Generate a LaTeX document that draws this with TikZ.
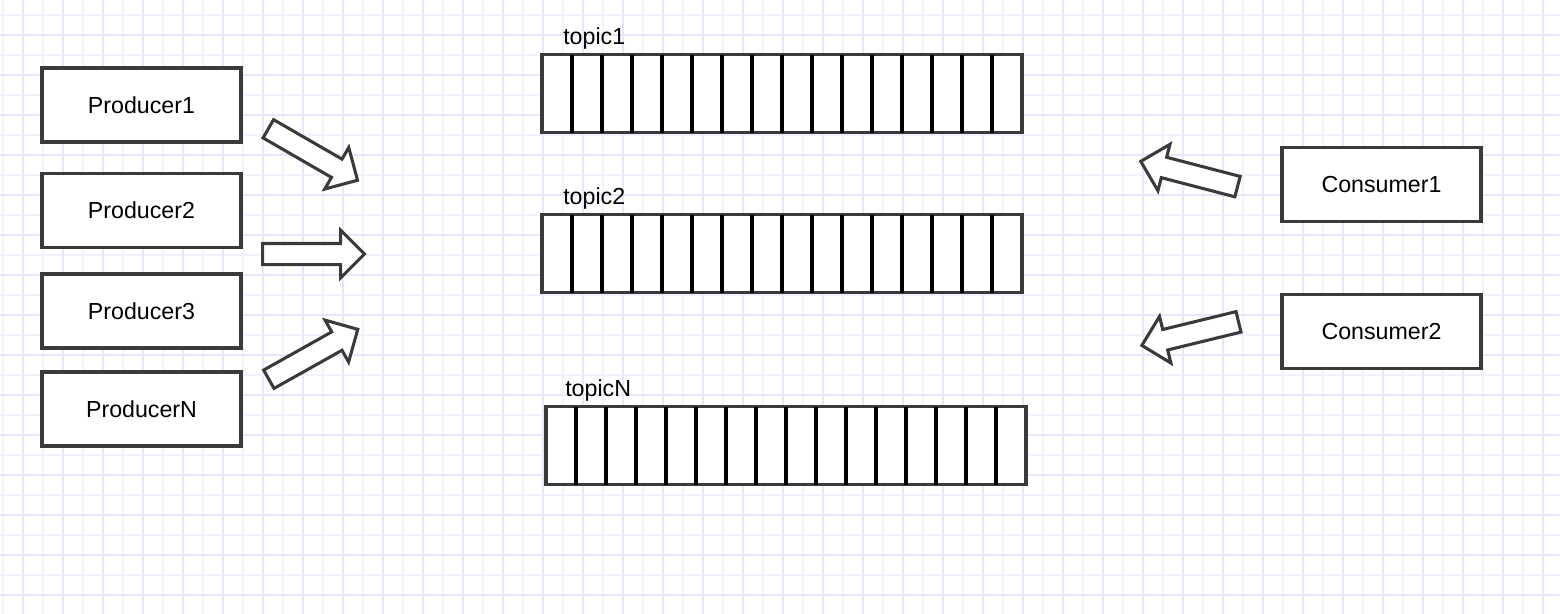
\documentclass[tikz,border=0pt]{standalone}
\usepackage{fontspec}
\setmainfont{Liberation Sans}
\usetikzlibrary{shapes.arrows}

\definecolor{gridminor}{RGB}{242,241,253}
\definecolor{gridmajor}{RGB}{232,230,251}
\definecolor{stroke}{RGB}{58,58,58}

\tikzset{
  client/.style={draw=stroke, line width=2.6pt, fill=white, inner sep=0pt, outer sep=0pt,
    minimum width=149.25pt, minimum height=55.5pt, font=\fontsize{17.4}{20}\selectfont},
  queuebar/.style={draw=stroke, line width=2.4pt, fill=white, inner sep=0pt, outer sep=0pt,
    minimum width=360pt, minimum height=58.5pt},
  queuename/.style={anchor=base west, inner sep=0pt, font=\fontsize{17.4}{20}\selectfont},
  flow/.style={single arrow, draw=stroke, line width=2.3pt, fill=white,
    inner xsep=0pt, inner ysep=6.75pt, anchor=tail, minimum height=#1,
    single arrow head extend=10.1pt, single arrow tip angle=90},
}

\begin{document}
\begin{tikzpicture}[x=0.75pt, y=-0.75pt]

  % Background and grid
  \fill[white] (0,0) rectangle (1560,614);
  \useasboundingbox (0,0) rectangle (1560,614);
  \foreach \x in {3,23,...,1563}
    \draw[gridminor, line width=1.1pt] (\x,0) -- (\x,614);
  \foreach \y in {15,35,...,615}
    \draw[gridminor, line width=1.1pt] (0,\y) -- (1560,\y);
  \foreach \x in {23,63,...,1563}
    \draw[gridmajor, line width=1.1pt] (\x,0) -- (\x,614);
  \foreach \y in {35,75,...,615}
    \draw[gridmajor, line width=1.1pt] (0,\y) -- (1560,\y);

  % Producers
  \node[client] (prod1) at (141.5,105) {Producer1};
  \node[client] (prod2) at (141.5,210.5) {Producer2};
  \node[client] (prod3) at (141.5,311) {Producer3};
  \node[client] (prodN) at (141.5,409) {ProducerN};

  % Consumers
  \node[client] (cons1) at (1381.5,184.5) {Consumer1};
  \node[client] (cons2) at (1381.5,331.5) {Consumer2};

  % Topics
  \node[queuebar] (topic1) at (782,93.5) {};
  \node[queuebar] (topic2) at (782,253.5) {};
  \node[queuebar] (topicN) at (786,445.5) {};
  \foreach \t in {topic1,topic2,topicN}
    \foreach \i in {1,...,15}
      \draw[stroke, line width=2.4pt] ([xshift=\i*22.5pt]\t.north west) -- ([xshift=\i*22.5pt]\t.south west);

  % Labels
  \node[queuename] (name1) at (563,44) {topic1};
  \node[queuename] (name2) at (563,204) {topic2};
  \node[queuename] (nameN) at (565,396) {topicN};

  % Arrows in
  \node[flow=77.25pt, rotate=-30] (in1) at (267,128) {};
  \node[flow=76.5pt] (in2) at (261,254) {};
  \node[flow=76.5pt, rotate=29.3] (in3) at (267.5,380) {};

  % Arrows out
  \node[flow=75pt, rotate=165.4] (out1) at (1239,187) {};
  \node[flow=74.6pt, rotate=193.7] (out2) at (1240,321.5) {};

\end{tikzpicture}
\end{document}
